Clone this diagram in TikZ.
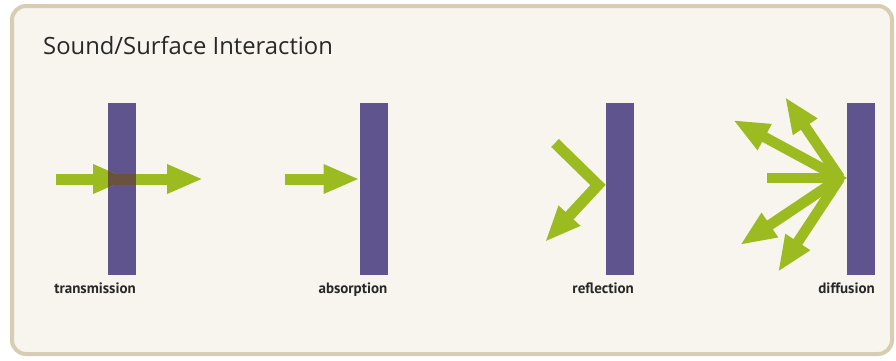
\documentclass[tikz,border=0pt]{standalone}
\usepackage{fontspec}
\setmainfont{PT Sans}
\newfontfamily\titlefont{Open Sans}
\usetikzlibrary{arrows.meta}
\definecolor{barpurple}{RGB}{95,84,142}
\definecolor{wavegreen}{RGB}{156,187,32}
\definecolor{frametan}{RGB}{214,205,178}
\definecolor{panel}{RGB}{248,245,238}
\definecolor{overlapc}{RGB}{105,82,62}
\definecolor{inkc}{RGB}{40,40,40}
\begin{document}
\begin{tikzpicture}[x=1pt,y=-1pt,
  bar/.style={fill=barpurple, draw=none, minimum width=28pt, minimum height=172pt, inner sep=0pt, outer sep=0pt},
  wave/.style={draw=wavegreen, line width=11pt, -{Triangle[width=27pt,length=36pt]}},
  plainwave/.style={draw=wavegreen, line width=10pt},
  lbl/.style={font=\bfseries\fontsize{15}{17}\selectfont, text=inkc, anchor=base east, inner sep=0pt}]
\useasboundingbox (0,0) rectangle (896,360);
\fill[white] (0,0) rectangle (896,360);
\draw[frametan, line width=4pt, fill=panel, rounded corners=14pt] (12,6) rectangle (892,354);

\node[anchor=base west, inner sep=0pt, font=\titlefont\fontsize{23.8}{27}\selectfont, text=inkc] (title) at (43,54) {Sound/Surface Interaction};

% bars
\node[bar] (b1) at (122,189) {};
\node[bar] (b2) at (373.5,189) {};
\node[bar] (b3) at (620,189) {};
\node[bar] (b4) at (861,189) {};

% transmission
\coordinate (t1s) at (56,179);
\coordinate (t1e) at (129,179);
\coordinate (t2e) at (203,179);
\draw[wave] (t1s) -- (t1e);
\begin{scope}
  \clip (b1.north west) rectangle (b1.south east);
  \draw[wave, draw=overlapc] (t1s) -- (t1e);
  \fill[overlapc] (b1.west |- 0,173.5) rectangle (b1.east |- 0,184.5);
\end{scope}
\draw[wave] (b1.east |- t1s) -- (t2e);

% absorption
\coordinate (a1s) at (285,179);
\draw[wave] (a1s) -- (b2.west |- a1s);

% reflection
\coordinate (r1s) at (555,143);
\coordinate (r1v) at (598,185);
\coordinate (r1e) at (545,242);
\draw[wave] (r1s) -- (r1v) -- (r1e);

% diffusion
\coordinate (d0) at (840,178);
\coordinate (dS) at (767,178);
\coordinate (d1) at (733,120);
\coordinate (d2) at (785,97);
\coordinate (d3) at (740,245);
\coordinate (d4) at (778,272);
\draw[plainwave] (dS) -- (d0);
\draw[wave, line width=10.5pt] (d0) -- (d1);
\draw[wave, line width=10.5pt] (d0) -- (d2);
\draw[wave, line width=10.5pt] (d0) -- (d3);
\draw[wave, line width=10.5pt] (d0) -- (d4);
\fill[wavegreen] (834,170) -- (847,178) -- (834,186) -- cycle;

% labels
\node[lbl] (l1) at (136,293) {transmission};
\node[lbl] (l2) at (387.5,293) {absorption};
\node[lbl] (l3) at (634,293) {reflection};
\node[lbl] (l4) at (875,293) {diffusion};
\end{tikzpicture}
\end{document}
